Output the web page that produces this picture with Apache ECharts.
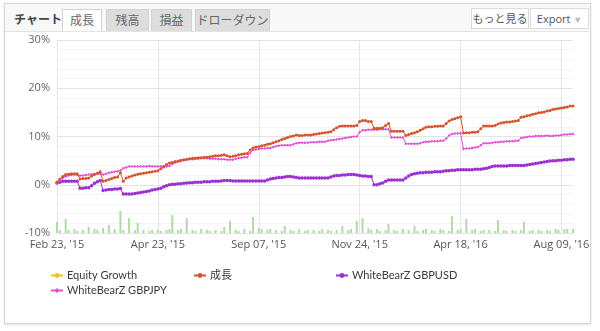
<!DOCTYPE html>
<html><head><meta charset="utf-8">
<script src="https://cdn.jsdelivr.net/npm/echarts@6/dist/echarts.min.js"></script>
<style>
html,body{margin:0;padding:0;background:#fff;width:600px;height:331px;overflow:hidden;font-family:"Open Sans","Noto Sans CJK JP",sans-serif;}
#panel{position:absolute;left:4px;top:3px;width:585px;height:319px;border:1px solid #d8d8d8;box-shadow:0 1px 2px rgba(0,0,0,0.12);background:#fff;}
#chart{position:absolute;left:0;top:0;width:600px;height:331px;}
#hdr{position:absolute;left:5px;top:4px;width:584px;height:27px;background:#f8f8f8;border-bottom:1px solid #e4e4e4;}
.t{position:absolute;font-size:12px;line-height:20px;text-align:center;color:#666;font-family:"Noto Sans CJK JP","Open Sans",sans-serif;}
.tab{top:9px;height:21px;background:#dddddd;border:1px solid #d2d2d2;border-bottom:none;}
.btn{top:8px;height:19px;background:#fff;border:1px solid #dcdcdc;font-size:11px;line-height:19px;color:#555;}
</style></head><body>
<div id="panel"></div>
<div id="hdr"></div>
<div class="t" style="left:14px;top:9px;font-weight:bold;color:#444;">チャート</div>
<div class="t tab" style="left:62px;width:38px;background:#fff;">成長</div>
<div class="t tab" style="left:106px;width:41px;">残高</div>
<div class="t tab" style="left:151px;width:39px;">損益</div>
<div class="t tab" style="left:195px;width:73px;">ドローダウン</div>
<div class="t btn" style="left:471px;width:56px;">もっと見る</div>
<div class="t btn" style="left:530px;width:57px;font-family:'Open Sans',sans-serif;">Export <span style="color:#bbb;font-size:9px">▼</span></div>
<div id="chart"></div>
<script>
const tickLabels = ["Feb 23, '15","Apr 23, '15","Sep 07, '15","Nov 24, '15","Apr 18, '16","Aug 09, '16"];
const growth = [0.55,1.2,1.7,2.1,2.2,2.3,2.3,2.3,1.2,1.3,1.3,1.4,1.8,2.1,2.4,2.7,0.7,0.9,1.1,1.3,1.5,1.6,2.5,0.7,1.4,1.6,1.8,2.0,2.2,2.3,
2.4,2.5,2.6,2.7,2.8,2.9,3.3,3.7,4.2,4.5,4.6,4.8,4.9,5.1,5.2,5.3,5.4,5.5,5.5,5.6,5.6,5.7,5.7,5.8,5.9,6.0,6.0,6.1,6.2,6.0,
5.8,5.9,6.0,6.2,6.3,6.4,6.5,7.2,7.6,7.8,7.9,8.1,8.2,8.4,8.5,8.7,8.9,9.1,9.4,9.6,9.8,10.0,10.1,10.3,10.2,10.2,10.3,10.3,10.3,10.4,
10.5,10.6,10.7,10.8,10.9,11.0,11.4,11.8,12.1,12.2,12.2,12.2,12.2,12.2,12.3,13.1,13.3,13.3,13.1,13.1,11.7,11.7,11.7,11.8,12.3,12.7,11.1,11.1,11.1,11.1,
11.1,10.2,10.4,10.6,10.8,11.0,11.3,11.6,11.9,12.0,12.0,12.1,12.1,12.2,12.2,12.7,13.2,13.5,13.7,13.9,14.1,10.7,10.8,10.8,10.9,10.9,11.0,11.6,12.2,12.2,
12.2,12.2,12.3,12.6,12.8,12.9,13.0,13.0,13.1,13.2,13.3,14.0,14.1,14.3,14.4,14.6,14.7,14.9,15.0,15.1,15.3,15.4,15.6,15.7,15.8,15.9,16.0,16.1,16.3,16.3];
const gbpjpy = [0.35,0.9,1.4,1.7,1.9,2.0,2.1,2.0,1.9,1.9,2.0,2.1,2.2,2.2,2.3,2.3,2.1,2.3,2.5,2.6,2.7,2.8,3.0,3.4,3.6,3.8,3.8,3.8,3.8,3.8,
3.8,3.8,3.9,3.8,3.8,3.8,3.8,3.9,3.8,3.9,4.3,4.6,4.8,4.9,5.1,5.2,5.3,5.3,5.4,5.4,5.5,5.5,5.5,5.4,5.4,5.4,5.3,5.3,5.3,5.2,
5.2,5.2,5.4,5.5,5.6,5.7,5.7,6.6,7.2,7.3,7.4,7.5,7.5,7.6,7.6,7.8,8.0,8.1,8.2,8.2,8.2,8.2,8.4,8.6,8.7,8.7,8.7,8.7,8.8,8.8,
8.8,8.9,8.9,8.9,9.1,9.2,9.3,9.4,9.5,9.6,9.7,9.8,9.9,10.0,10.0,10.9,11.3,11.3,11.4,11.4,11.4,11.4,11.5,11.5,11.5,11.5,9.8,9.8,9.8,9.8,
9.8,8.5,8.5,8.5,8.5,8.5,8.6,8.8,8.9,8.9,9.0,9.0,9.0,9.1,9.1,9.6,10.2,10.5,10.6,10.6,10.7,7.4,7.5,7.5,7.6,7.7,7.8,8.2,8.6,8.6,
8.6,8.7,8.8,8.8,8.9,8.9,9.0,9.0,9.0,9.1,9.1,9.7,9.8,9.9,10.0,10.0,10.1,10.1,10.1,10.1,10.2,10.1,10.1,10.2,10.2,10.3,10.4,10.4,10.5,10.5];
const gbpusd = [0.35,0.5,0.7,0.7,0.7,0.7,0.7,0.7,-0.7,-0.7,-0.6,-0.6,-0.2,0.3,0.6,0.9,-1.2,-1.1,-1.0,-1.0,-0.9,-0.9,-0.8,-1.9,-1.9,-1.9,-1.9,-1.8,-1.7,-1.6,
-1.5,-1.4,-1.3,-1.1,-1.0,-0.9,-0.7,-0.4,-0.2,0.0,0.1,0.1,0.2,0.2,0.3,0.35,0.4,0.4,0.5,0.5,0.5,0.6,0.6,0.6,0.7,0.7,0.7,0.8,0.9,0.9,
0.9,0.8,0.8,0.8,0.8,0.8,0.8,0.8,0.8,0.8,0.8,0.8,0.8,1.0,1.2,1.3,1.4,1.5,1.5,1.6,1.7,1.7,1.6,1.5,1.4,1.4,1.4,1.4,1.4,1.4,
1.4,1.4,1.4,1.4,1.4,1.6,1.8,1.9,1.9,2.0,2.0,2.1,2.1,2.1,2.0,1.9,1.8,1.8,1.7,1.7,0.0,0.0,0.2,0.35,0.7,1.0,1.0,1.0,1.0,1.0,
1.0,1.4,1.8,2.1,2.3,2.4,2.5,2.5,2.6,2.6,2.6,2.7,2.7,2.7,2.8,2.9,2.9,3.0,3.0,3.1,3.1,3.1,3.1,3.1,3.1,3.2,3.2,3.2,3.3,3.4,
3.6,3.8,3.9,3.9,3.9,3.9,3.9,4.0,4.0,4.0,4.0,4.0,4.0,4.1,4.2,4.3,4.4,4.5,4.6,4.7,4.8,4.9,5.0,5.0,5.1,5.1,5.2,5.2,5.3,5.3];
const volume = [11,3,0,14,3,0,4,2,0,3, 0,6,0,4,3,0,5,0,8,0, 4,0,22,3,0,15,0,3,10,0, 3,0,2,3,0,3,2,0,3,4,
18,0,3,4,0,15,0,3,2,0, 4,0,3,2,0,3,0,2,6,0, 12,0,3,2,0,4,0,2,16,0, 5,4,0,3,4,0,3,0,2,7,
0,3,2,0,4,0,2,3,0,3, 0,2,4,0,3,2,0,3,0,7, 0,3,4,0,12,0,15,0,5,3, 0,4,2,0,3,9,0,3,2,0,
4,0,3,0,7,2,0,3,4,0, 3,2,0,4,3,0,2,17,0,3, 4,0,14,0,3,4,0,2,3,0, 3,0,2,13,0,3,2,0,3,2,
0,3,11,0,2,3,0,3,2,0, 3,2,0,4,3,0,4,4,0,4];

const N = growth.length;
const step = 35;
const categories = [];
for (let i = 0; i < N; i++) categories.push(i % step === 0 ? tickLabels[i / step] : String(i));

const chart = echarts.init(document.getElementById('chart'), null, {renderer: 'canvas'});
const legFont = 'Lato,"Noto Sans CJK JP",sans-serif';
const mkLegend = (name, left, top) => ({
  data: [name], left: left, top: top, itemWidth: 12, itemHeight: 6, itemGap: 4, padding: 0,
  textStyle: {fontFamily: legFont, fontSize: 11, color: '#3a3a3a', padding: [0, 0, 0, -1]}, selectedMode: false
});
chart.setOption({
  animation: false,
  backgroundColor: 'transparent',
  grid: {left: 57, right: 27, top: 40, bottom: 98},
  legend: [mkLegend('Equity Growth', 50, 270), mkLegend('成長', 193, 270), mkLegend('WhiteBearZ GBPUSD', 335, 270), mkLegend('WhiteBearZ GBPJPY', 50, 285)],
  xAxis: {
    type: 'category', data: categories, boundaryGap: false,
    axisLine: {show: false}, axisTick: {show: false},
    axisLabel: {interval: step - 1, margin: 6, color: '#555', fontSize: 11, fontFamily: '"Open Sans",sans-serif',
      formatter: v => tickLabels.indexOf(v) >= 0 ? v : ''},
    splitLine: {show: true, interval: step - 1, lineStyle: {color: '#e6e6e6', width: 1}}
  },
  yAxis: [{
    type: 'value', min: -10, max: 30, interval: 10,
    axisLine: {show: false}, axisTick: {show: false},
    axisLabel: {formatter: '{value}%', color: '#666', fontSize: 11, margin: 7, fontFamily: '"Open Sans",sans-serif'},
    splitLine: {lineStyle: {color: '#e3e3e3'}},
    minorTick: {show: false, splitNumber: 5},
    minorSplitLine: {show: true, lineStyle: {color: '#f4f4f4'}}
  }, {
    type: 'value', min: 0, max: 193, show: false, splitLine: {show: false}
  }],
  series: [
    {name: 'volume', type: 'bar', yAxisIndex: 1, data: volume, barWidth: 2, itemStyle: {color: '#b0dba8'}, silent: true, z: 1},
    {name: 'Equity Growth', type: 'line', data: [], color: '#f2c318', symbol: 'circle', symbolSize: 3, lineStyle: {width: 1}},
    {name: 'WhiteBearZ GBPUSD', type: 'line', data: gbpusd, color: '#9b2fd3', symbol: 'circle', symbolSize: 3.5, showAllSymbol: true, lineStyle: {width: 1}, z: 3},
    {name: 'WhiteBearZ GBPJPY', type: 'line', data: gbpjpy, color: '#e350d6', symbol: 'diamond', symbolSize: 3, showAllSymbol: true, lineStyle: {width: 1}, z: 4},
    {name: '成長', type: 'line', data: growth, color: '#d5532c', symbol: 'circle', symbolSize: 3, showAllSymbol: true, lineStyle: {width: 1}, z: 5}
  ]
});
</script>
</body></html>
